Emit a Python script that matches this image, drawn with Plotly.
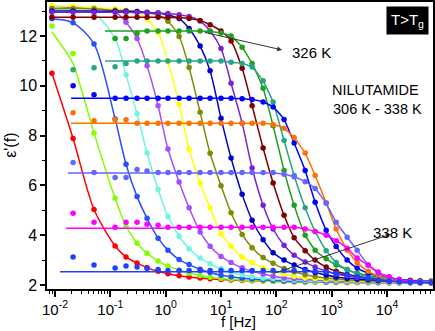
import plotly.graph_objects as go

# measurement frequencies (Hz)
freq = [0.0088, 0.0212, 0.0507, 0.122, 0.192, 0.304, 0.461, 0.729, 1.10, 1.75,
        2.65, 4.19, 6.35, 10.0, 15.2, 24.1, 36.5, 57.7, 87.5, 138,
        210, 332, 503, 796, 1206, 1906, 2890, 4570, 6930, 10960,
        16600, 26300, 39800, 63000]

temps = [306, 308, 310, 312, 314, 316, 318, 320, 322, 324, 326, 328, 330, 332, 334, 336, 338]
colors = ['#ff0000', '#80ff00', '#2a4dff', '#70f5e0', '#a64dff', '#ffff00', '#7d8c00', '#0000c8',
          '#7b22d6', '#800000', '#1fa01f', '#23a685', '#0000ff', '#ff7000', '#6666ff', '#ff00ff', '#2040ff']

N = None
eps306 = [10.5, 7.88, 5.03, 3.57, 3.13, 2.88, 2.70, 2.55, 2.45, 2.37, 2.32, 2.28, 2.25, 2.22, 2.20, 2.18, 2.17,
          2.16, 2.15, 2.14, 2.13, 2.12, 2.12, 2.11, 2.11, 2.10, 2.10, 2.10, 2.09, 2.09, 2.09, 2.09, 2.08, 2.08]
eps308 = [12.4, 11.3, 8.1, 5.48, 4.36, 3.68, 3.28, 2.96, 2.76, 2.60, 2.47, 2.38, 2.31, 2.26, 2.23, 2.20, 2.18,
          2.16, 2.15, 2.14, 2.13, 2.12, 2.11, 2.11, 2.10, 2.10, 2.10, 2.09, 2.09, 2.09, 2.09, 2.09, 2.08, 2.08]
eps310 = [12.69, 12.53, 11.68, 8.67, 6.85, 5.55, 4.68, 3.88, 3.40, 3.02, 2.82, 2.63, 2.50, 2.39, 2.33, 2.27, 2.24,
          2.21, 2.19, 2.16, 2.15, 2.14, 2.14, 2.12, 2.12, 2.11, 2.11, 2.10, 2.10, 2.10, 2.09, 2.09, 2.09, 2.09]
eps312 = [13.08, 13.04, 12.90, 11.9, 10.44, 8.88, 7.3, 5.84, 4.75, 3.96, 3.46, 3.08, 2.85, 2.66, 2.52, 2.41, 2.33,
          2.27, 2.25, 2.21, 2.19, 2.17, 2.15, 2.15, 2.14, 2.13, 2.12, 2.11, 2.11, 2.10, 2.10, 2.10, 2.10, 2.09]
eps314 = [13.19, 13.14, 13.09, 12.97, 12.55, 11.9, 10.8, 9.2, 7.46, 6.14, 5.10, 4.13, 3.56, 3.15, 2.90, 2.69, 2.55,
          2.44, 2.35, 2.28, 2.25, 2.22, 2.20, 2.17, 2.16, 2.15, 2.14, 2.13, 2.12, 2.11, 2.11, 2.10, 2.10, 2.10]
eps316 = [13.2, 13.19, 13.14, 13.09, 13.02, 12.96, 12.66, 12.13, 10.96, 9.25, 7.46, 6.1, 5.10, 4.05, 3.56, 3.12, 2.90,
          2.69, 2.55, 2.44, 2.35, 2.28, 2.25, 2.22, 2.20, 2.17, 2.16, 2.15, 2.14, 2.13, 2.12, 2.11, 2.11, 2.10]
eps318 = [13.1, 13.1, 13.09, 13.03, 13.02, 12.99, 12.93, 12.85, 12.59, 11.98, 10.73, 8.94, 7.29, 5.99, 4.9, 4.03, 3.50,
          3.10, 2.87, 2.66, 2.53, 2.41, 2.34, 2.28, 2.25, 2.21, 2.19, 2.17, 2.15, 2.15, 2.14, 2.13, 2.12, 2.11]
eps320 = [13.0, 13.0, 13.0, 12.99, 12.98, 12.97, 12.95, 12.92, 12.84, 12.7, 12.3, 11.6, 10.6, 8.7, 7.1, 5.64, 4.6,
          3.82, 3.3, 3.0, 2.8, 2.62, 2.5, 2.4, 2.32, 2.27, 2.24, 2.21, 2.18, 2.16, 2.15, 2.14, 2.13, 2.12]
eps322 = [12.95, 12.95, 12.95, 12.95, 12.95, 12.94, 12.93, 12.92, 12.9, 12.85, 12.78, 12.6, 12.2, 11.5, 10.1, 8.5, 6.7,
          5.2, 4.25, 3.6, 3.2, 2.92, 2.72, 2.56, 2.44, 2.36, 2.3, 2.26, 2.23, 2.2, 2.18, 2.16, 2.15, 2.14]
eps324 = [12.75, 12.75, 12.75, 12.75, 12.75, 12.75, 12.75, 12.75, 12.74, 12.73, 12.7, 12.62, 12.45, 12.2, 11.8, 10.7, 9.2,
          7.5, 6.1, 4.8, 3.9, 3.38, 3.0, 2.72, 2.55, 2.43, 2.35, 2.29, 2.25, 2.21, 2.19, 2.17, 2.15, 2.14]
eps326 = [N, N, N, 11.9, 11.9, 12.1, 12.2, 12.2, 12.2, 12.2, 12.2, 12.2, 12.18, 12.12, 12.0, 11.55, 10.9,
          9.9, 8.4, 6.6, 5.2, 4.0, 3.4, 3.05, 2.8, 2.62, 2.48, 2.38, 2.31, 2.26, 2.22, 2.19, 2.17, 2.16]
eps328 = [N, 10.64, 10.72, 10.76, 10.9, 11.0, 11.0, 11.0, 11.0, 11.0, 11.0, 11.0, 11.0, 11.0, 10.95, 10.9, 10.75,
          10.2, 9.35, 7.8, 6.4, 5.1, 4.15, 3.38, 2.9, 2.62, 2.45, 2.34, 2.27, 2.22, 2.19, 2.17, 2.15, 2.14]
eps330 = [N, 10.0, 9.64, 9.5, 9.5, 9.5, 9.5, 9.5, 9.5, 9.5, 9.5, 9.5, 9.5, 9.5, 9.5, 9.48, 9.45,
          9.35, 9.15, 8.65, 7.7, 6.6, 5.32, 4.2, 3.55, 3.0, 2.68, 2.48, 2.36, 2.28, 2.22, 2.18, 2.15, 2.13]
eps332 = [N, 8.92, 8.6, 8.64, 8.64, 8.5, 8.5, 8.5, 8.5, 8.5, 8.5, 8.5, 8.5, 8.5, 8.5, 8.5, 8.5,
          8.5, 8.45, 8.3, 7.92, 7.3, 6.4, 5.3, 4.25, 3.4, 2.9, 2.55, 2.36, 2.25, 2.19, 2.15, 2.13, 2.12]
eps334 = [N, 6.92, 6.52, 6.32, 6.32, 6.64, 6.58, 6.52, 6.52, 6.52, 6.52, 6.52, 6.52, 6.52, 6.52, 6.52, 6.52,
          6.52, 6.52, 6.45, 6.35, 6.15, 5.88, 5.28, 4.52, 3.92, 3.4, 2.8, 2.48, 2.3, 2.2, 2.15, 2.12, 2.1]
eps336 = [N, 4.88, 4.52, 4.32, 4.52, 4.52, 4.44, 4.4, 4.32, 4.32, 4.32, 4.32, 4.32, 4.32, 4.32, 4.32, 4.32,
          4.32, 4.32, 4.32, 4.32, 4.25, 4.15, 4.0, 3.78, 3.48, 3.08, 2.8, 2.52, 2.33, 2.22, 2.15, 2.11, 2.09]
eps338 = [N, 3.12, 2.8, 2.68, 2.76, 2.72, 2.66, 2.62, 2.58, 2.58, 2.58, 2.58, 2.58, 2.58, 2.58, 2.58, 2.58,
          2.58, 2.58, 2.58, 2.58, 2.58, 2.55, 2.52, 2.47, 2.4, 2.33, 2.26, 2.2, 2.16, 2.13, 2.11, 2.1, 2.09]

# fitted curves where they differ from the measured points
fit308 = [12.17, 10.9] + eps308[2:]
fit326 = [N, N, N, 12.2, 12.2, 12.2] + eps326[6:]
fit328 = [N, N, N, 11.0, 11.0] + eps328[5:]
fit330 = [N, N, 9.5, 9.5, 9.5] + eps330[5:]
fit332 = [N, N, 8.5, 8.5, 8.5] + eps332[5:]
fit334 = [N, N, 6.5, 6.5, 6.5, 6.5, 6.5] + [6.5] * 12 + eps334[19:]
fit336 = [N, N, 4.28, 4.28, 4.28, 4.28, 4.28, 4.28, 4.3] + eps336[9:]
fit338 = [N, N, 2.53, 2.53, 2.53, 2.53, 2.53, 2.53, 2.53] + [2.53] * 13 + eps338[22:]
fit_start_f = {326: 0.080, 328: 0.080, 330: 0.0195, 332: 0.0195, 334: 0.0172, 336: 0.0158, 338: 0.0123}

eps = [eps306, eps308, eps310, eps312, eps314, eps316, eps318, eps320, eps322,
       eps324, eps326, eps328, eps330, eps332, eps334, eps336, eps338]
fits = {308: fit308, 326: fit326, 328: fit328, 330: fit330, 332: fit332,
        334: fit334, 336: fit336, 338: fit338}

fig = go.Figure()
for t, e, c in zip(temps, eps, colors):
    px = [f for f, v in zip(freq, e) if v is not None]
    py = [v for v in e if v is not None]
    if t in fits:
        fx = [f for f, v in zip(freq, fits[t]) if v is not None]
        fy = [v for v in fits[t] if v is not None]
        if t in fit_start_f:
            fx = [fit_start_f[t]] + fx
            fy = [fy[0]] + fy
        fig.add_trace(go.Scatter(x=fx, y=fy, mode='lines', line=dict(color=c, width=1.5, shape='spline', smoothing=0.4),
                                 showlegend=False, hoverinfo='skip'))
        fig.add_trace(go.Scatter(x=px, y=py, mode='markers', marker=dict(color=c, size=5.5),
                                 name=f'{t} K', showlegend=False))
    else:
        fig.add_trace(go.Scatter(x=px, y=py, mode='lines+markers',
                                 line=dict(color=c, width=1.5, shape='spline', smoothing=0.8),
                                 marker=dict(color=c, size=5.5), name=f'{t} K', showlegend=False))

font = 'Arial, Liberation Sans, sans-serif'
fig.add_annotation(x=2.105, y=11.44, ax=0.676, ay=12.16, xref='x', yref='y', axref='x', ayref='y',
                   text='', showarrow=True, arrowhead=2, arrowsize=1, arrowwidth=1, arrowcolor='#333333')
fig.add_annotation(x=4.07, y=4.04, ax=1.92, ay=2.44, xref='x', yref='y', axref='x', ayref='y',
                   text='', showarrow=True, arrowhead=2, arrowsize=1, arrowwidth=1, arrowcolor='#333333')
fig.add_annotation(x=2.642, y=11.32, xref='x', yref='y', text='326 K', showarrow=False,
                   font=dict(size=15, color='black', family=font))
fig.add_annotation(x=4.094, y=4.12, xref='x', yref='y', text='338 K', showarrow=False,
                   font=dict(size=15, color='black', family=font))
fig.add_annotation(x=3.8, y=9.46, xref='x', yref='y', text='NILUTAMIDE<br> 306 K - 338 K', showarrow=False,
                   align='center', font=dict(size=14.5, color='black', family=font))
fig.add_annotation(x=0.934, y=0.937, xref='paper', yref='paper', xanchor='center', yanchor='middle',
                   text='T>T<sub>g</sub>', showarrow=False,
                   bgcolor='black', borderpad=4, font=dict(size=15, color='white', family=font))
# axis titles
fig.add_annotation(x=-0.095, y=0.5, xref='paper', yref='paper', xanchor='center', yanchor='middle',
                   text="ε'(f)", textangle=-90, showarrow=False,
                   font=dict(size=16, color='black', family=font))
fig.add_annotation(x=0.495, y=-0.112, xref='paper', yref='paper', xanchor='center', yanchor='middle',
                   text='f [Hz]', showarrow=False,
                   font=dict(size=15, color='black', family=font))

minor_x = [m * 10 ** k for k in range(-3, 5) for m in range(2, 10)]
fig.update_xaxes(type='log', range=[-2.145, 4.832], automargin=False,
                 tickvals=[0.01, 0.1, 1, 10, 100, 1000, 10000],
                 ticktext=['10<sup>-2</sup>', '10<sup>-1</sup>', '10<sup>0</sup>', '10<sup>1</sup>',
                           '10<sup>2</sup>', '10<sup>3</sup>', '10<sup>4</sup>'],
                 ticks='outside', ticklen=6, tickwidth=1.5, tickcolor='black',
                 minor=dict(tickvals=minor_x, ticks='outside', ticklen=3, tickwidth=1, tickcolor='black'),
                 showline=True, linecolor='black', linewidth=1.5, mirror=True, showgrid=False, zeroline=False,
                 tickfont=dict(size=15, color='black', family=font))
fig.update_yaxes(range=[1.84, 13.365], tickvals=[2, 4, 6, 8, 10, 12], automargin=False,
                 ticks='outside', ticklen=5, tickwidth=1.5, tickcolor='black',
                 minor=dict(dtick=1, tick0=1, ticks='outside', ticklen=3, tickwidth=1, tickcolor='black'),
                 showline=True, linecolor='black', linewidth=1.5, mirror=True, showgrid=False, zeroline=False,
                 tickfont=dict(size=16, color='black', family=font))
fig.update_layout(width=435, height=331, margin=dict(l=47, r=2, t=2, b=42),
                  paper_bgcolor='white', plot_bgcolor='white', showlegend=False,
                  font=dict(family=font, color='black'))

# the page has a default 8px body margin; remove it so the figure fills the window
fig.write_html("out.html", config={'displayModeBar': False},
               post_script="document.body.style.margin='0px';")
